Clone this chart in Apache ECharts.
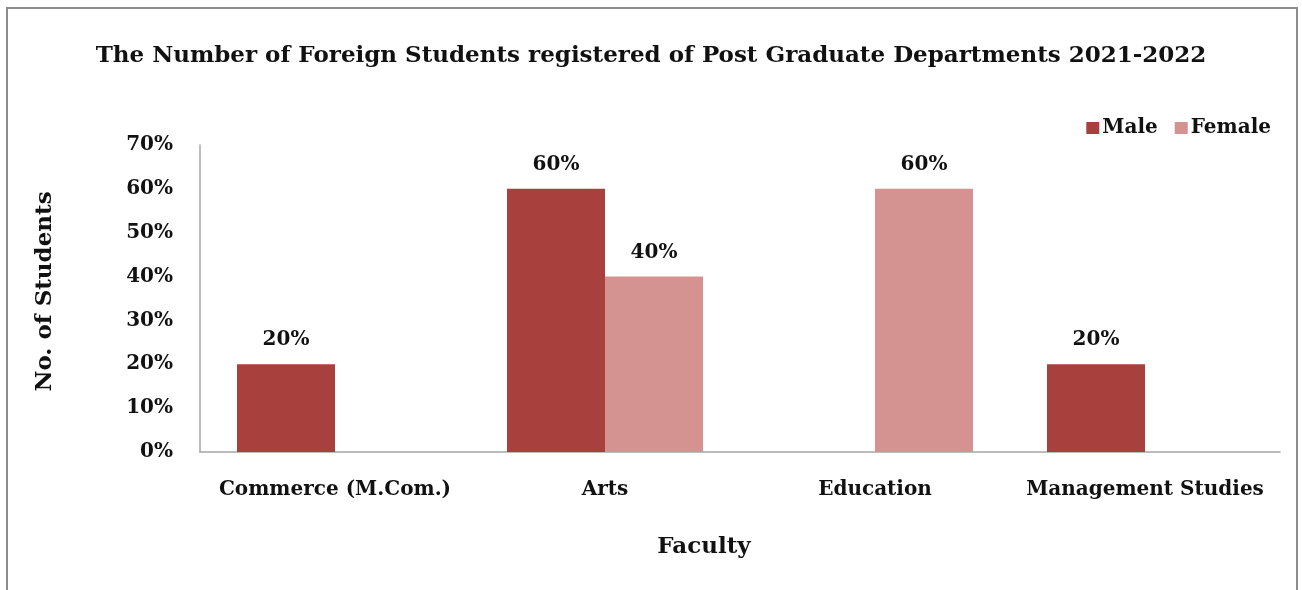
<!DOCTYPE html>
<html>
<head>
<meta charset="utf-8">
<script src="https://cdn.jsdelivr.net/npm/echarts@6/dist/echarts.min.js"></script>
<style>
html,body{margin:0;padding:0;background:#fff;}
#c{width:1302px;height:590px;}
</style>
</head>
<body>
<div id="c"></div>
<script>
const categories = ['Commerce (M.Com.)', 'Arts', 'Education', 'Management Studies'];
const maleValues = [20, 60, 0, 20];
const femaleValues = [0, 40, 60, 0];
const seriesNames = ['Male', 'Female'];
const titleText = 'The Number of Foreign Students registered of Post Graduate Departments 2021-2022';

const FONT = '"DejaVu Serif", serif';
const chart = echarts.init(document.getElementById('c'), null, {renderer: 'canvas'});
const labelCfg = {
  show: true, position: 'top', distance: 14,
  fontFamily: FONT, fontWeight: 'bold', fontSize: 20, color: '#111',
  formatter: p => p.value ? p.value + '%' : ''
};
chart.setOption({
  animation: false,
  backgroundColor: '#fff',
  color: ['#a8403d', '#d49290'],
  graphic: [{
    type: 'rect', shape: {x: 7, y: 8, width: 1290, height: 620},
    style: {fill: 'none', stroke: '#8c8c8c', lineWidth: 2}, silent: true
  }],
  title: {
    text: titleText, left: 'center', top: 40,
    textStyle: {fontFamily: FONT, fontWeight: 'bold', fontSize: 23, color: '#111'}
  },
  legend: {
    data: seriesNames, right: 26, top: 113, itemWidth: 13, itemHeight: 12, itemGap: 17,
    icon: 'rect',
    textStyle: {fontFamily: FONT, fontWeight: 'bold', fontSize: 20, color: '#111', padding: [0,0,0,-2]}
  },
  grid: {left: 200, right: 22, top: 145, bottom: 138, containLabel: false},
  xAxis: {
    type: 'category', data: categories,
    name: 'Faculty', nameLocation: 'middle', nameGap: 84,
    nameTextStyle: {fontFamily: FONT, fontWeight: 'bold', fontSize: 23, color: '#111', padding: [0, 72, 0, 0]},
    axisLine: {show: true, lineStyle: {color: '#a6a6a6', width: 1.5}},
    axisTick: {show: false},
    axisLabel: {fontFamily: FONT, fontWeight: 'bold', fontSize: 20, color: '#111', margin: 28, interval: 0}
  },
  yAxis: {
    type: 'value', min: 0, max: 70, interval: 10,
    name: 'No. of Students', nameLocation: 'middle', nameGap: 143, nameRotate: 90,
    nameTextStyle: {fontFamily: FONT, fontWeight: 'bold', fontSize: 23, color: '#111', padding: [0, 0, 0, 14]},
    axisLine: {show: true, lineStyle: {color: '#a6a6a6', width: 1.5}},
    axisTick: {show: false},
    splitLine: {show: false},
    axisLabel: {formatter: '{value}%', fontFamily: FONT, fontWeight: 'bold', fontSize: 20, color: '#111', margin: 27}
  },
  series: [
    {name: seriesNames[0], type: 'bar', data: maleValues, barWidth: '36.3%', barGap: '0%', label: labelCfg},
    {name: seriesNames[1], type: 'bar', data: femaleValues, barWidth: '36.3%', barGap: '0%', label: labelCfg}
  ]
});
</script>
</body>
</html>
